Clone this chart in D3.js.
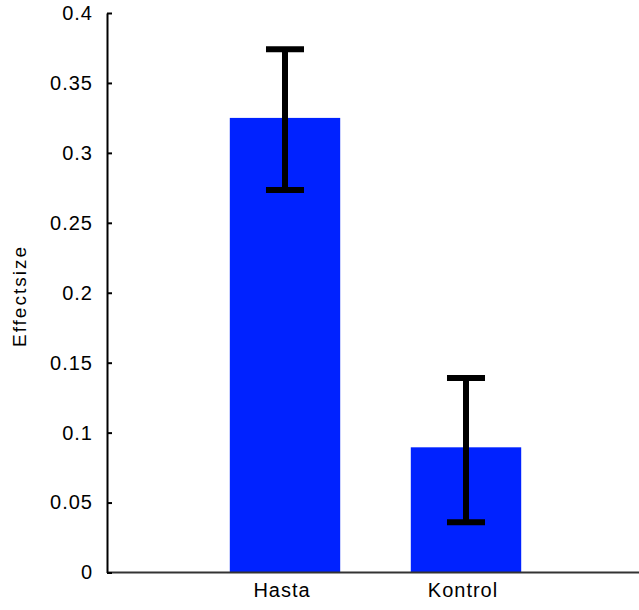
<!DOCTYPE html>
<html>
<head>
<meta charset="utf-8">
<script src="https://d3js.org/d3.v7.min.js"></script>
<style>
  body { margin: 0; background: #fff; }
  text { font-family: 'Liberation Sans', Arial, sans-serif; }
</style>
</head>
<body>
<svg id="chart"></svg>
<script>
// Data
const groups = ['Hasta', 'Kontrol'];
const positions = [1, 2];
const effect = [0.325, 0.0895];
const errLow = [0.2735, 0.036];
const errHigh = [0.374, 0.139];
const yTicks = [0, 0.05, 0.1, 0.15, 0.2, 0.25, 0.3, 0.35, 0.4];

const svgWidth = 639;
const svgHeight = 610;

const svg = d3.select('#chart')
  .attr('width', svgWidth)
  .attr('height', svgHeight);

// Scales
const x = d3.scaleLinear().domain([0, 3]).range([104, 647]);
const y = d3.scaleLinear().domain([0, 0.4]).range([572.5, 13]);
const barWidth = 0.61;

// Bars
svg.selectAll('.bar')
  .data(groups)
  .enter()
  .append('rect')
  .attr('class', 'bar')
  .attr('x', (d, i) => x(positions[i] - barWidth / 2))
  .attr('width', x(barWidth) - x(0))
  .attr('y', (d, i) => y(effect[i]))
  .attr('height', (d, i) => y(0) - y(effect[i]))
  .attr('fill', '#0022ff');

// Error bars
const capHalf = 0.105;
const err = svg.append('g').attr('stroke', '#000').attr('stroke-width', 6);
groups.forEach((g, i) => {
  err.append('line')
    .attr('x1', x(positions[i])).attr('x2', x(positions[i]))
    .attr('y1', y(errLow[i])).attr('y2', y(errHigh[i]));
  [errLow[i], errHigh[i]].forEach((v) => {
    err.append('line')
      .attr('x1', x(positions[i] - capHalf)).attr('x2', x(positions[i] + capHalf))
      .attr('y1', y(v)).attr('y2', y(v));
  });
});

// X axis line (no ticks)
svg.append('line')
  .attr('x1', 107).attr('x2', svgWidth)
  .attr('y1', y(0)).attr('y2', y(0))
  .attr('stroke', '#333').attr('stroke-width', 2);

// X labels
svg.selectAll('.xlabel')
  .data(groups)
  .enter()
  .append('text')
  .attr('class', 'xlabel')
  .attr('x', (d, i) => x(positions[i]) - 3)
  .attr('y', 597)
  .attr('text-anchor', 'middle')
  .attr('font-size', '20px')
  .attr('letter-spacing', '1px')
  .text((d) => d);

// Y axis
const leftAxis = d3.axisLeft(y)
  .tickValues(yTicks)
  .tickSize(-5)
  .tickSizeOuter(0)
  .tickPadding(14)
  .tickFormat((d) => String(+d.toFixed(2)));

const yAxis = svg.append('g')
  .attr('transform', 'translate(107, 0)')
  .call(leftAxis);
yAxis.select('.domain').attr('stroke', '#000').attr('stroke-width', 2);
yAxis.selectAll('.tick line').attr('stroke', '#000').attr('stroke-width', 2);
yAxis.selectAll('.tick text')
  .attr('font-size', '20px')
  .attr('font-family', "'Liberation Sans', Arial, sans-serif")
  .attr('letter-spacing', '1px')
  .attr('fill', '#000');

// Y label
svg.append('text')
  .attr('transform', 'translate(26, 296) rotate(-90)')
  .attr('text-anchor', 'middle')
  .attr('font-size', '19px')
  .attr('letter-spacing', '2px')
  .text('Effectsize');
</script>
</body>
</html>
